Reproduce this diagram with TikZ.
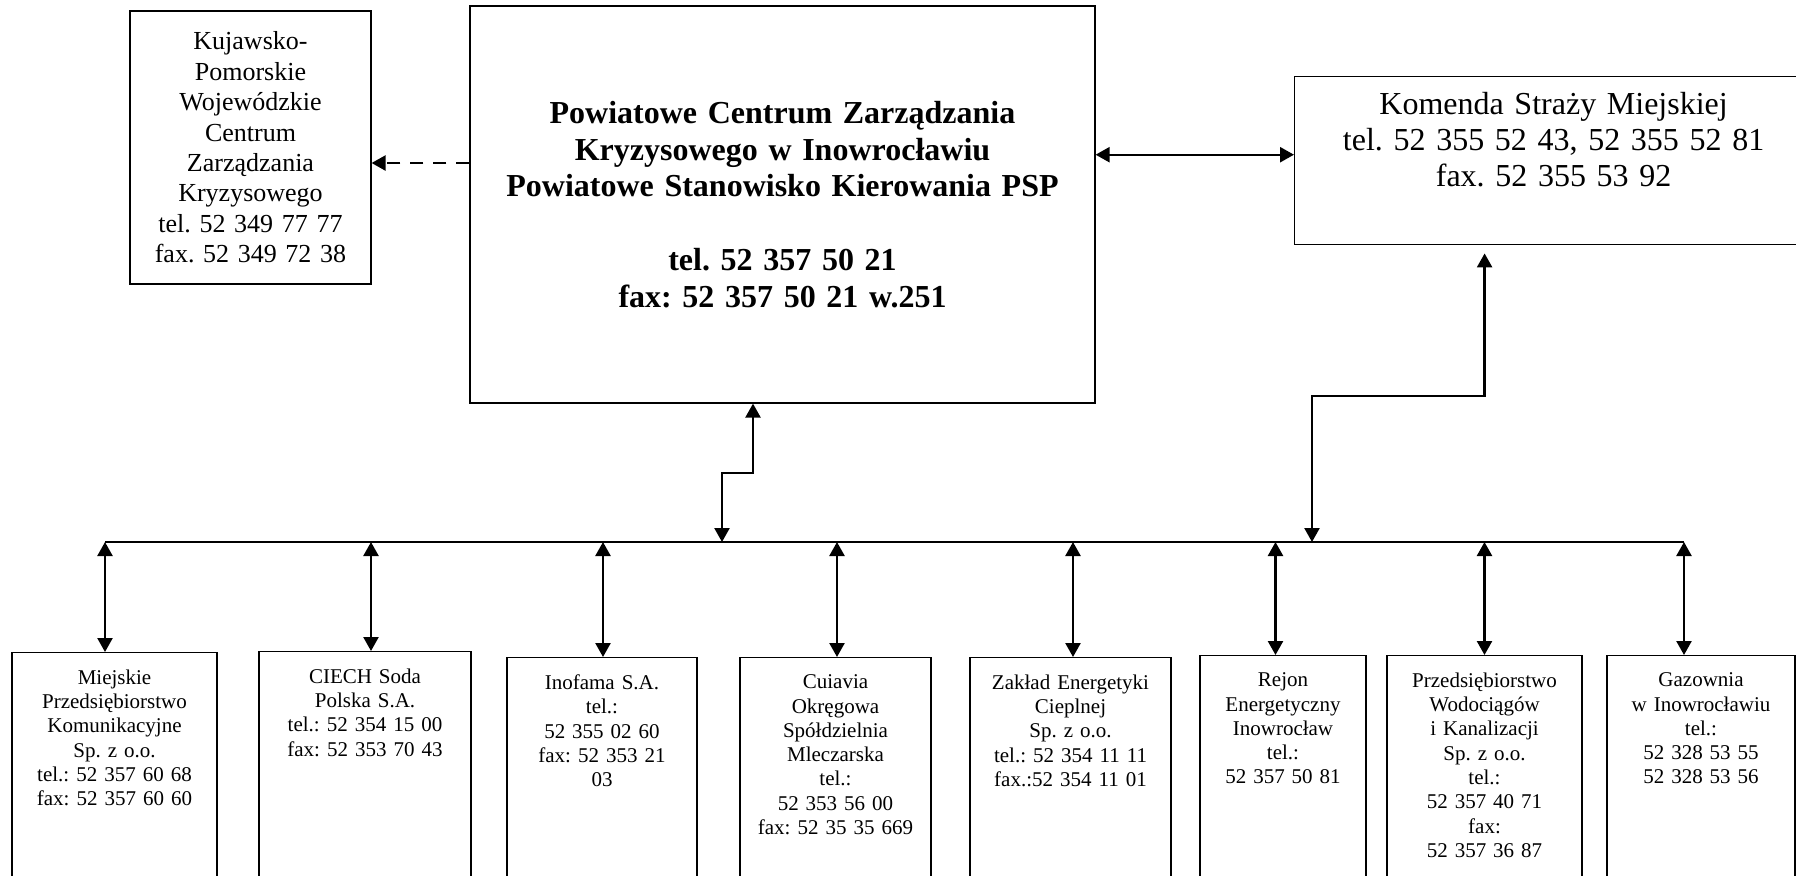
\documentclass[tikz,border=0pt]{standalone}
\usepackage{fontspec}
\setmainfont{Liberation Serif}
\usetikzlibrary{arrows.meta}
\frenchspacing

\begin{document}
\begin{tikzpicture}[x=0.5pt,y=-0.5pt]
    \tikzset{box/.style = {shape=rectangle,draw,line width=0.6pt,align=center,inner xsep=2pt}}
    \tikzset{unit/.style = {box,anchor=north,inner ysep=8.6pt,text depth=130pt,
        font=\fontsize{10.5}{12.15}\selectfont}}
    \tikzset{edge/.style = {line width=1.2pt,> = {Triangle[length=7pt,width=7.5pt]}}}
    \useasboundingbox (0,0) rectangle (1796,875);
    \clip (0,0) rectangle (1796,875);
    % upper boxes
    \node[box,minimum width=120.5pt,minimum height=136.5pt,text width=112pt,
        font=\fontsize{13}{15.2}\selectfont] (kpwczk) at (250.5,147.5)
        {Kujawsko-\\Pomorskie\\Wojewódzkie\\Centrum\\Zarządzania\\Kryzysowego\\tel. 52 349 77 77\\fax. 52 349 72 38};
    \node[box,minimum width=312.5pt,minimum height=198.5pt,text width=300pt,
        font=\bfseries\fontsize{16}{18.4}\selectfont] (pczk) at (782.5,204.5)
        {Powiatowe Centrum Zarządzania\\Kryzysowego w Inowrocławiu\\Powiatowe Stanowisko Kierowania PSP\\[18.4pt]
         tel. 52 357 50 21\\fax: 52 357 50 21 w.251};
    \node[box,anchor=north west,minimum width=259pt,text width=250pt,inner ysep=8pt,text depth=57pt,
        font=\fontsize{16}{17.8}\selectfont] (ksm) at (1294,76)
        {Komenda Straży Miejskiej\\tel. 52 355 52 43, 52 355 52 81\\fax. 52 355 53 92};

    % lower boxes
    \node[unit,minimum width=102.5pt,text width=96pt] (mpk) at (114.5,652)
        {Miejskie\\Przedsiębiorstwo\\Komunikacyjne\\Sp. z o.o.\\tel.: 52 357 60 68\\fax: 52 357 60 60};
    \node[unit,minimum width=106pt,text width=100pt] (ciech) at (365,651)
        {CIECH Soda\\Polska S.A.\\tel.: 52 354 15 00\\fax: 52 353 70 43};
    \node[unit,minimum width=95pt,text width=89pt] (inofama) at (602,657)
        {Inofama S.A.\\tel.:\\52 355 02 60\\fax: 52 353 21\\03};
    \node[unit,minimum width=95.5pt,text width=89pt] (cuiavia) at (835.5,657)
        {Cuiavia\\Okręgowa\\Spółdzielnia\\Mleczarska\\tel.:\\52 353 56 00\\fax: 52 35 35 669};
    \node[unit,minimum width=100.5pt,text width=94pt] (zec) at (1070.5,657)
        {Zakład Energetyki\\Cieplnej\\Sp. z o.o.\\tel.: 52 354 11 11\\fax.:52 354 11 01};
    \node[unit,minimum width=83pt,text width=77pt] (rejon) at (1283,655)
        {Rejon\\Energetyczny\\Inowrocław\\tel.:\\52 357 50 81};
    \node[unit,minimum width=97.5pt,text width=91pt] (pwik) at (1484.5,655)
        {Przedsiębiorstwo\\Wodociągów\\i Kanalizacji\\Sp. z o.o.\\tel.:\\52 357 40 71\\fax:\\52 357 36 87};
    \node[unit,minimum width=94pt,text width=88pt] (gaz) at (1701,655)
        {Gazownia\\w Inowrocławiu\\tel.:\\52 328 53 55\\52 328 53 56};

    % bus points
    \coordinate (b1) at (105,542);
    \coordinate (b2) at (371,542);
    \coordinate (b3) at (603,542);
    \coordinate (b4) at (837,542);
    \coordinate (b5) at (1073,542);
    \coordinate (b6) at (1275.5,542);
    \coordinate (b7) at (1484.5,542);
    \coordinate (b8) at (1684,542);
    \coordinate (bc) at (722,542);
    \coordinate (bk) at (1312,542);
    \coordinate (dsh) at ([yshift=-7.75pt]kpwczk.east);
    \coordinate (kl) at ([yshift=3pt]ksm.west);
    \coordinate (pc) at ([xshift=-14.75pt]pczk.south);
    \coordinate (kc) at ([xshift=-34.5pt]ksm.south);

    % edges
    \draw[edge,->,dash pattern=on 6.5pt off 5pt] (dsh -| pczk.west) -- (dsh);
    \draw[edge,<->] (pczk.east |- kl) -- (kl);
    \draw[edge,<->] (bc) -- ++(0,-69) -| (pc);
    \draw[edge,<->,shorten >=4pt] (bk) -- ++(0,-146) -| (kc);
    \draw[line width=1pt] (b1) -- (b8);
    \foreach \b/\n in {b1/mpk,b2/ciech,b3/inofama,b4/cuiavia,b5/zec,b6/rejon,b7/pwik,b8/gaz}
        \draw[edge,<->] (\b) -- (\b |- \n.north);
\end{tikzpicture}
\end{document}
